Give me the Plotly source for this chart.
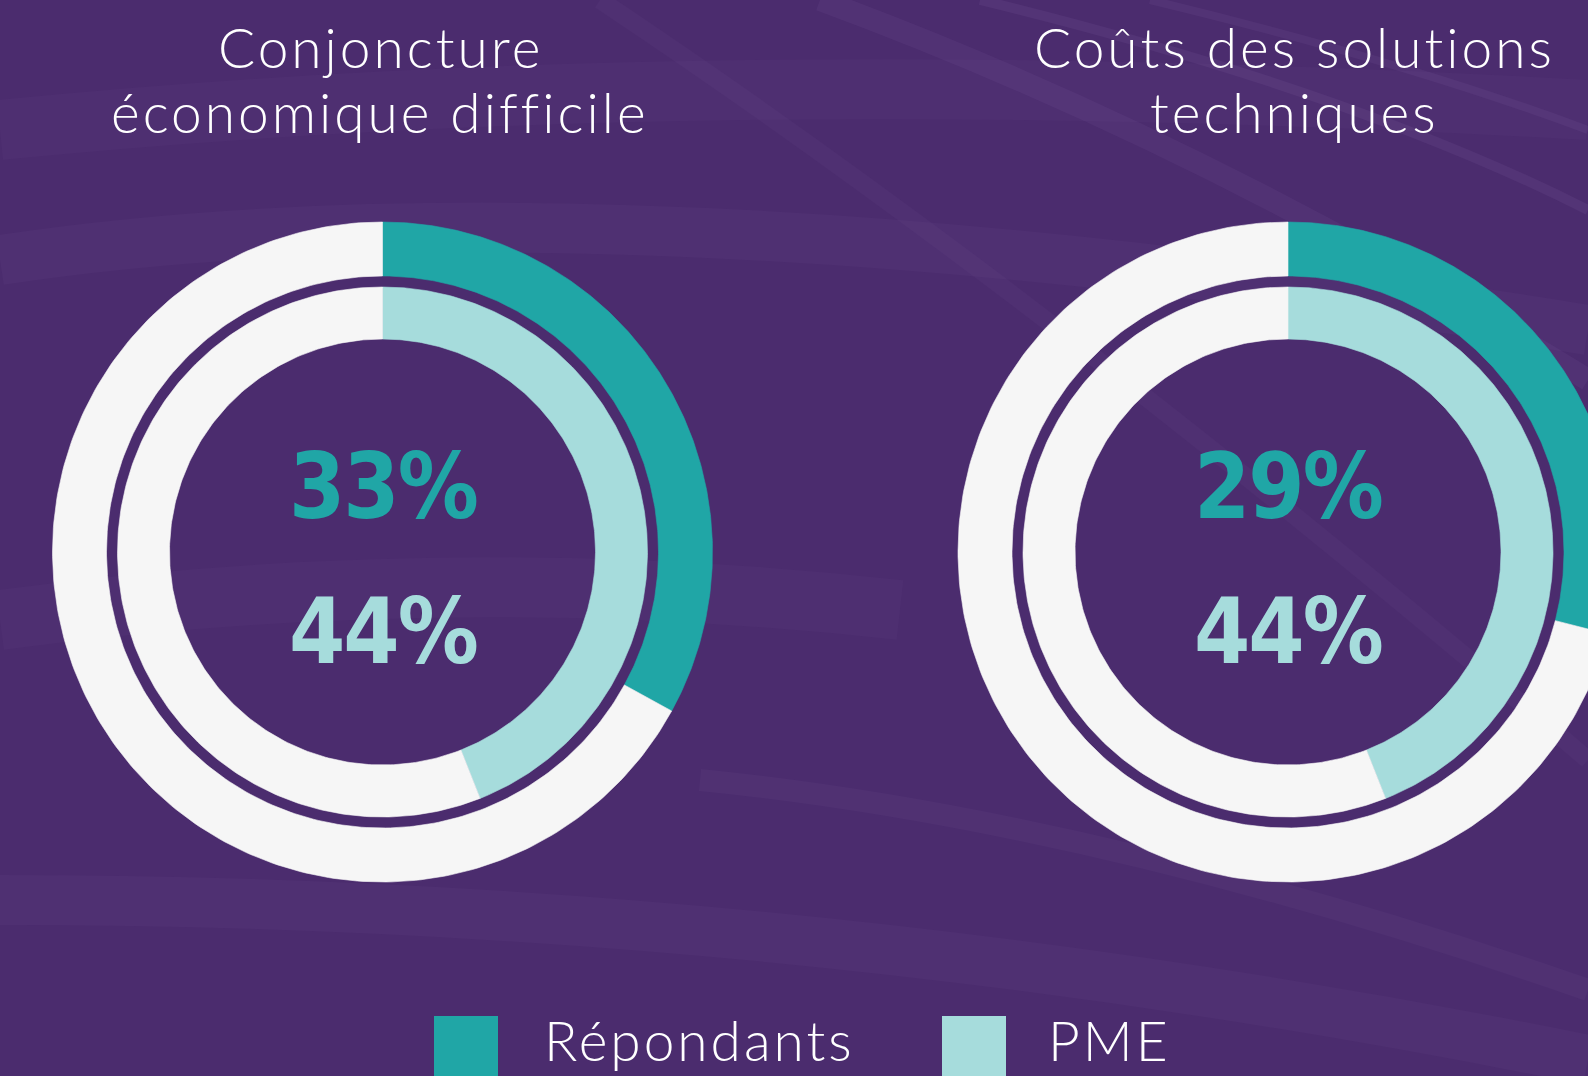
import numpy as np
import plotly.graph_objects as go

# Survey results: share of respondents / SMEs citing each obstacle (%)
titles = ["Conjoncture<br>économique difficile", "Coûts des solutions<br>techniques"]
repondants = [33, 29]
pme = [44, 44]
series_names = ["Répondants", "PME"]

W, H = 1588, 1076
BG = "#4B2C6E"
TEAL = "#20A6A6"
LIGHT = "#A6DCDC"
REST = "#F6F6F6"

centers_x = [382.5, 1288]
center_y = 552
outer_ring = (276, 330)
inner_ring = (213, 265)

TITLE_FONT = "Lato"
NUM_FONT = "DejaVu Sans Condensed, Roboto Condensed, Arial Narrow, sans-serif"


def ring_segment(cx, cy, r_in, r_out, p0, p1, n=240):
    """Polygon of an annular sector from p0% to p1%, clockwise from 12 o'clock."""
    a = np.linspace(p0, p1, n) / 100 * 2 * np.pi
    xo = cx + r_out * np.sin(a)
    yo = cy - r_out * np.cos(a)
    xi = cx + r_in * np.sin(a[::-1])
    yi = cy - r_in * np.cos(a[::-1])
    return np.concatenate([xo, xi, xo[:1]]), np.concatenate([yo, yi, yo[:1]])


def spaced(txt, px):
    return f'<span style="letter-spacing:{px}px">{txt}</span>'


fig = go.Figure()

for i, cx in enumerate(centers_x):
    for (r_in, r_out), value, color in [
        (outer_ring, repondants[i], TEAL),
        (inner_ring, pme[i], LIGHT),
    ]:
        for p0, p1, c in [(0, value, color), (value, 100, REST)]:
            x, y = ring_segment(cx, center_y, r_in, r_out, p0, p1)
            fig.add_trace(go.Scatter(
                x=x, y=y, mode="lines", fill="toself", fillcolor=c,
                line=dict(width=0.6, color=c), hoverinfo="skip", showlegend=False,
            ))

annotations = []
title_x = [380, 1294]
title_rows = [47, 112]
for i, cx in enumerate(centers_x):
    for row_y, line in zip(title_rows, titles[i].split("<br>")):
        annotations.append(dict(
            x=title_x[i], y=row_y, xref="x", yref="y", text=spaced(line, 3), showarrow=False,
            font=dict(family=TITLE_FONT, size=55, color="white", weight=300),
            xanchor="center", yanchor="middle",
        ))
    annotations.append(dict(
        x=cx, y=486, xref="x", yref="y", text=spaced(f"{repondants[i]}%", -2), showarrow=False,
        font=dict(family=NUM_FONT, size=90, color=TEAL, weight="bold"),
        xanchor="center", yanchor="middle",
    ))
    annotations.append(dict(
        x=cx, y=631, xref="x", yref="y", text=spaced(f"{pme[i]}%", -2), showarrow=False,
        font=dict(family=NUM_FONT, size=90, color=LIGHT, weight="bold"),
        xanchor="center", yanchor="middle",
    ))

shapes = []

# Soft, faint light streaks across the background
streaks = [
    ("M 0 260 Q 600 170 1588 330", 50, 0.018),
    ("M 0 130 Q 700 60 1588 110", 60, 0.015),
    ("M 820 0 Q 1200 140 1588 380", 22, 0.028),
    ("M 980 0 Q 1350 90 1588 210", 10, 0.032),
    ("M 1150 0 Q 1400 60 1588 130", 8, 0.03),
    ("M 0 900 Q 800 900 1588 1060", 50, 0.018),
    ("M 600 0 Q 1050 300 1588 760", 18, 0.018),
    ("M 0 620 Q 450 560 900 610", 60, 0.015),
    ("M 700 780 Q 1100 820 1588 990", 22, 0.02),
]
for path, w, op in streaks:
    shapes.append(dict(
        type="path", path=path, xref="x", yref="y", layer="below",
        line=dict(color=f"rgba(200,170,235,{op * 2})", width=w),
    ))

# Legend keys and labels
legend_keys = [(434, 498, TEAL, 542), (942, 1006, LIGHT, 1046)]
for (x0, x1, c, tx), name in zip(legend_keys, series_names):
    shapes.append(dict(type="rect", xref="x", yref="y", x0=x0, x1=x1, y0=1016, y1=1090,
                       fillcolor=c, line=dict(width=0), layer="above"))
    annotations.append(dict(
        x=tx, y=1040, xref="x", yref="y", text=spaced(name, 3), showarrow=False,
        font=dict(family=TITLE_FONT, size=55, color="white", weight=300),
        xanchor="left", yanchor="middle",
    ))

fig.update_layout(
    width=W, height=H, margin=dict(l=0, r=0, t=0, b=0),
    paper_bgcolor=BG, plot_bgcolor=BG,
    xaxis=dict(range=[0, W], visible=False, fixedrange=True),
    yaxis=dict(range=[H, 0], visible=False, fixedrange=True),
    shapes=shapes, annotations=annotations, showlegend=False,
)

fig.write_html("out.html", config={"displayModeBar": False})
